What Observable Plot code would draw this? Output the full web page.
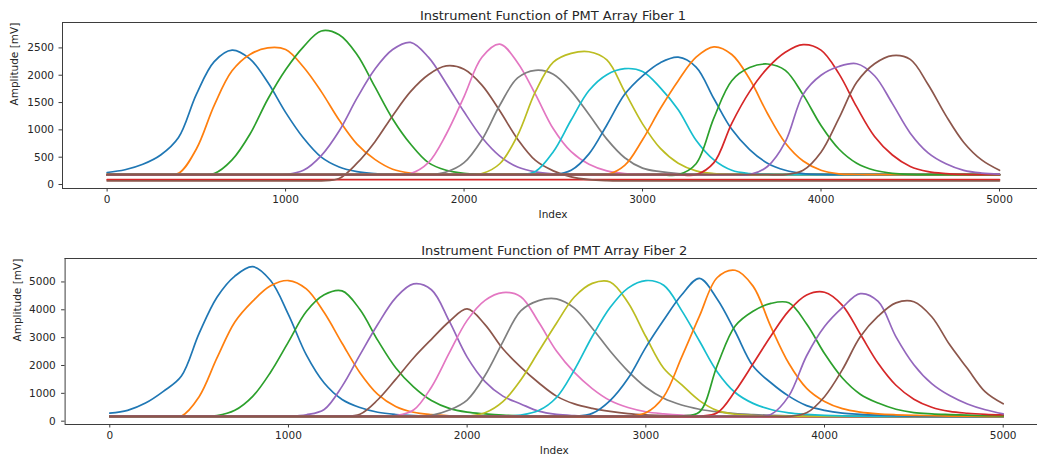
<!DOCTYPE html>
<html>
<head>
<meta charset="utf-8">
<script src="https://cdn.jsdelivr.net/npm/d3@7"></script>
<script src="https://cdn.jsdelivr.net/npm/@observablehq/plot@0.6"></script>
<style>
html, body { margin: 0; padding: 0; background: #fff; overflow: hidden; }
#chart svg { display: block; }
</style>
</head>
<body>
<div id="chart"></div>
<script>
const sampleIndex = [0,100,200,300,400,500,600,700,800,900,
  1000,1100,1200,1300,1400,1500,1600,1700,1800,1900,
  2000,2100,2200,2300,2400,2500,2600,2700,2800,2900,
  3000,3100,3200,3300,3400,3500,3600,3700,3800,3900,
  4000,4100,4200,4300,4400,4500,4600,4700,4800,4900,
  5000];

const titles = ["Instrument Function of PMT Array Fiber 1", "Instrument Function of PMT Array Fiber 2"];
const xLabel = "Index";
const yLabel = "Amplitude [mV]";
const xTicks = [0, 1000, 2000, 3000, 4000, 5000];
const yTicksFiber1 = [0, 500, 1000, 1500, 2000, 2500];
const yTicksFiber2 = [0, 1000, 2000, 3000, 4000, 5000];
const tab10 = ["#1f77b4","#ff7f0e","#2ca02c","#d62728","#9467bd","#8c564b","#e377c2","#7f7f7f","#bcbd22","#17becf"];

// ---------- Fiber 1 (amplitude in mV) ----------
const f1s01 = [220,270,370,540,860,1650,2250,2460,2300,1870,
  1320,850,500,320,235,200,188,183,180,180,
  180,180,180,180,180,180,180,180,180,180,
  180,180,180,180,180,180,180,180,180,180,
  180,180,180,180,180,180,180,180,180,180,
  180];
const f1s02 = [190,190,190,190,205,650,1450,2080,2380,2500,
  2470,2150,1700,1180,740,460,280,210,190,185,
  185,185,185,185,185,185,185,185,185,185,
  185,185,185,185,185,185,185,185,185,185,
  185,185,185,185,185,185,185,185,185,185,
  185];
const f1s03 = [185,185,185,185,185,185,200,450,920,1560,
  2100,2520,2810,2740,2380,1790,1200,740,400,260,
  205,190,185,185,185,185,185,185,185,185,
  185,185,185,185,185,185,185,185,185,185,
  185,185,185,185,185,185,185,185,185,185,
  185];
const f1s04 = [90,90,90,90,90,90,90,90,90,90,
  90,90,90,90,90,90,90,90,90,90,
  90,90,90,90,90,90,90,90,90,90,
  90,90,90,90,90,90,90,90,90,90,
  90,90,90,90,90,90,90,90,90,90,
  90];
const f1s05 = [180,180,180,180,180,180,180,180,180,180,
  185,260,530,980,1580,2110,2470,2600,2330,1850,
  1330,860,520,320,230,195,185,180,180,180,
  180,180,180,180,180,180,180,180,180,180,
  180,180,180,180,180,180,180,180,180,180,
  180];
const f1s06 = [68,68,68,68,68,68,68,68,68,68,
  68,68,68,110,390,780,1260,1700,2010,2170,
  2110,1820,1350,830,440,250,140,90,72,68,
  68,68,68,68,68,68,68,68,68,68,
  68,68,68,68,68,68,68,68,68,68,
  68];
const f1s07 = [180,180,180,180,180,180,180,180,180,180,
  180,180,180,180,180,180,180,200,400,920,
  1610,2330,2570,2230,1650,1020,600,370,250,200,
  185,180,180,180,180,180,180,180,180,180,
  180,180,180,180,180,180,180,180,180,180,
  180];
const f1s08 = [180,180,180,180,180,180,180,180,180,180,
  180,180,180,180,180,180,180,180,180,230,
  400,820,1450,1950,2090,2020,1710,1280,830,490,
  300,235,200,185,180,180,180,180,180,180,
  180,180,180,180,180,180,180,180,180,180,
  180];
const f1s09 = [180,180,180,180,180,180,180,180,180,180,
  180,180,180,180,180,180,180,180,180,180,
  180,200,380,900,1700,2240,2400,2430,2280,1700,
  1110,660,390,250,200,185,180,180,180,180,
  180,180,180,180,180,180,180,180,180,180,
  180];
const f1s10 = [180,180,180,180,180,180,180,180,180,180,
  180,180,180,180,180,180,180,180,180,180,
  180,180,180,180,240,600,1180,1720,2010,2120,
  2070,1770,1370,810,450,260,200,185,180,180,
  180,180,180,180,180,180,180,180,180,180,
  180];
const f1s11 = [180,180,180,180,180,180,180,180,180,180,
  180,180,180,180,180,180,180,180,180,180,
  180,180,180,180,180,180,260,560,1090,1650,
  1990,2230,2330,2150,1570,1010,640,390,260,200,
  185,180,180,180,180,180,180,180,180,180,
  180];
const f1s12 = [180,180,180,180,180,180,180,180,180,180,
  180,180,180,180,180,180,180,180,180,180,
  180,180,180,180,180,180,180,180,180,350,
  820,1390,1900,2330,2520,2380,1930,1300,760,430,
  260,195,183,180,180,180,180,180,180,180,
  180];
const f1s13 = [180,180,180,180,180,180,180,180,180,180,
  180,180,180,180,180,180,180,180,180,180,
  180,180,180,180,180,180,180,180,180,180,
  180,180,180,380,1220,1900,2140,2205,2090,1640,
  1080,650,390,260,205,185,180,180,180,180,
  180];
const f1s14 = [180,180,180,180,180,180,180,180,180,180,
  180,180,180,180,180,180,180,180,180,180,
  180,180,180,180,180,180,180,180,180,180,
  180,180,180,180,400,1120,1700,2130,2420,2560,
  2460,2030,1420,880,540,330,235,200,185,180,
  180];
const f1s15 = [180,180,180,180,180,180,180,180,180,180,
  180,180,180,180,180,180,180,180,180,180,
  180,180,180,180,180,180,180,180,180,180,
  180,180,180,180,180,180,180,330,780,1650,
  2000,2160,2210,1990,1480,940,580,380,260,210,
  190];
const f1s16 = [180,180,180,180,180,180,180,180,180,180,
  180,180,180,180,180,180,180,180,180,180,
  180,180,180,180,180,180,180,180,180,180,
  180,180,180,180,180,180,180,180,180,260,
  590,1210,1870,2210,2360,2290,1830,1260,770,450,
  260];

// ---------- Fiber 2 (amplitude in mV) ----------
const f2s01 = [290,390,650,1070,1610,3150,4450,5210,5550,5050,
  3830,2380,1370,780,490,320,240,200,185,175,
  175,175,175,175,175,175,175,175,175,175,
  175,175,175,175,175,175,175,175,175,175,
  175,175,175,175,175,175,175,175,175,175,
  175];
const f2s02 = [175,175,175,175,180,880,2270,3560,4310,4860,
  5050,4750,3900,2800,1740,960,530,320,235,195,
  180,175,175,175,175,175,175,175,175,175,
  175,175,175,175,175,175,175,175,175,175,
  175,175,175,175,175,175,175,175,175,175,
  175];
const f2s03 = [175,175,175,175,175,175,200,390,890,1760,
  2850,3940,4540,4680,4010,2900,1920,1230,740,460,
  324,264,220,195,180,175,175,175,175,175,
  175,175,175,175,175,175,175,175,175,175,
  175,175,175,175,175,175,175,175,175,175,
  175];
const f2s04 = [155,155,155,155,155,155,155,155,155,155,
  155,155,155,155,155,155,155,155,155,155,
  155,155,155,155,155,155,155,155,155,155,
  155,155,155,155,155,155,155,155,155,155,
  155,155,155,155,155,155,155,155,155,155,
  155];
const f2s05 = [175,175,175,175,175,175,175,175,175,175,
  175,230,420,1250,2380,3480,4430,4930,4720,3590,
  2300,1420,900,620,360,245,200,180,175,175,
  175,175,175,175,175,175,175,175,175,175,
  175,175,175,175,175,175,175,175,175,175,
  175];
const f2s06 = [175,175,175,175,175,175,175,175,175,175,
  175,175,175,175,250,770,1500,2270,2940,3580,
  4030,3470,2600,1940,1380,900,620,460,350,270,
  225,200,185,175,175,175,175,175,175,175,
  175,175,175,175,175,175,175,175,175,175,
  175];
const f2s07 = [175,175,175,175,175,175,175,175,175,175,
  175,175,175,175,175,175,200,400,1220,2450,
  3620,4340,4620,4470,3560,2520,1750,1170,740,490,
  340,265,215,190,175,175,175,175,175,175,
  175,175,175,175,175,175,175,175,175,175,
  175];
const f2s08 = [175,175,175,175,175,175,175,175,175,175,
  175,175,175,175,175,175,175,175,210,400,
  760,1640,2850,3960,4330,4390,4060,3340,2520,1800,
  1220,820,580,430,335,275,240,210,190,180,
  175,175,175,175,175,175,175,175,175,175,
  175];
const f2s09 = [175,175,175,175,175,175,175,175,175,175,
  175,175,175,175,175,175,175,175,175,175,
  175,300,700,1480,2500,3520,4460,4950,5000,4260,
  3040,1900,1310,740,380,250,205,185,175,175,
  175,175,175,175,175,175,175,175,175,175,
  175];
const f2s10 = [175,175,175,175,175,175,175,175,175,175,
  175,175,175,175,175,175,175,175,175,175,
  175,175,175,220,380,850,1840,3040,4080,4780,
  5050,4880,3980,2880,1770,1030,640,420,300,245,
  210,190,180,175,175,175,175,175,175,175,
  175];
const f2s11 = [175,175,175,175,175,175,175,175,175,175,
  175,175,175,175,175,175,175,175,175,175,
  175,175,175,175,175,175,175,280,740,1530,
  2650,3630,4530,5130,4380,3220,1980,1380,900,560,
  390,290,245,215,195,180,175,175,175,175,
  175];
const f2s12 = [175,175,175,175,175,175,175,175,175,175,
  175,175,175,175,175,175,175,175,175,175,
  175,175,175,175,175,175,175,175,175,175,
  300,880,2290,3770,5160,5420,4850,3390,2080,1180,
  710,450,325,262,230,210,195,185,180,175,
  175];
const f2s13 = [175,175,175,175,175,175,175,175,175,175,
  175,175,175,175,175,175,175,175,175,175,
  175,175,175,175,175,175,175,175,175,175,
  175,175,185,330,2010,3420,3950,4230,4250,3490,
  2430,1550,970,650,430,310,265,238,215,200,
  190];
const f2s14 = [175,175,175,175,175,175,175,175,175,175,
  175,175,175,175,175,175,175,175,175,175,
  175,175,175,175,175,175,175,175,175,175,
  175,175,175,180,300,1080,2060,3060,3960,4530,
  4630,4160,3130,2080,1290,790,500,350,285,248,
  228];
const f2s15 = [175,175,175,175,175,175,175,175,175,175,
  175,175,175,175,175,175,175,175,175,175,
  175,175,175,175,175,175,175,175,175,175,
  175,175,175,175,175,175,175,240,900,2350,
  3400,4080,4580,4300,3030,2030,1350,920,620,410,
  264];
const f2s16 = [175,175,175,175,175,175,175,175,175,175,
  175,175,175,175,175,175,175,175,175,175,
  175,175,175,175,175,175,175,175,175,175,
  175,175,175,175,175,175,175,175,175,300,
  880,1850,3030,3770,4250,4290,3750,2750,1890,1050,
  623];

const fiber1 = [f1s01,f1s02,f1s03,f1s04,f1s05,f1s06,f1s07,f1s08,f1s09,f1s10,f1s11,f1s12,f1s13,f1s14,f1s15,f1s16];
const fiber2 = [f2s01,f2s02,f2s03,f2s04,f2s05,f2s06,f2s07,f2s08,f2s09,f2s10,f2s11,f2s12,f2s13,f2s14,f2s15,f2s16];

const spine = "#3d3d3d";
const ink = "#262626";
const plain = d3.format("d");

function panel(cfg) {
  const marks = cfg.series.map((vals, i) =>
    Plot.line(sampleIndex.map((x, j) => ({x, y: vals[j]})), {
      x: "x", y: "y", stroke: tab10[i % 10], strokeWidth: 1.7, curve: "catmull-rom"
    })
  );
  marks.push(Plot.ruleY(cfg.yDomain, {stroke: spine, strokeWidth: 1}));
  marks.push(Plot.ruleX([cfg.xDomain[0]], {stroke: spine, strokeWidth: 1}));
  marks.push(Plot.axisX(xTicks, {tickSize: 3.5, tickPadding: 4, label: null, stroke: spine, tickFormat: plain}));
  marks.push(Plot.axisY(cfg.yTicks, {tickSize: 3.5, tickPadding: cfg.yPad, label: null, stroke: spine, tickFormat: plain}));
  marks.push(Plot.text([cfg.title], {text: d => d, frameAnchor: "top", dy: cfg.titleDy, dx: 3, fontSize: 13, fill: ink}));
  marks.push(Plot.text([xLabel], {text: d => d, frameAnchor: "bottom", dy: 29, dx: 3, fill: ink}));
  marks.push(Plot.text([yLabel], {text: d => d, frameAnchor: "left", dx: cfg.yLabDx, rotate: -90, fill: ink}));
  return Plot.plot({
    width: 1037,
    height: cfg.height,
    marginTop: cfg.mt,
    marginBottom: cfg.mb,
    marginLeft: cfg.ml,
    marginRight: 0,
    x: {domain: cfg.xDomain},
    y: {domain: cfg.yDomain},
    style: {fontFamily: "'DejaVu Sans', sans-serif", fontSize: "10.5px", color: ink, background: "#fff"},
    marks
  });
}

const chart = document.getElementById("chart");
chart.appendChild(panel({
  series: fiber1, title: titles[0], yTicks: yTicksFiber1,
  height: 230, mt: 22, mb: 42, ml: 62,
  xDomain: [-250, 5213], yDomain: [-73, 2965],
  yPad: 5, titleDy: -11.3, yLabDx: -48
}));
chart.appendChild(panel({
  series: fiber2, title: titles[1], yTicks: yTicksFiber2,
  height: 231, mt: 28, mb: 37, ml: 64.6,
  xDomain: [-250, 5192], yDomain: [-119, 5842],
  yPad: 5.8, titleDy: -12.3, yLabDx: -47.3
}));
</script>
</body>
</html>
